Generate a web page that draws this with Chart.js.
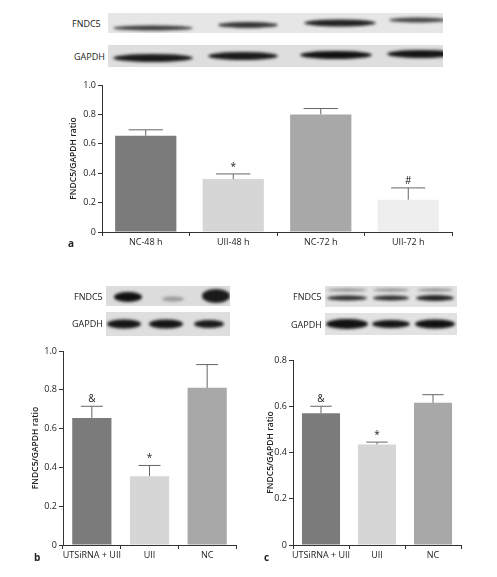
<!DOCTYPE html>
<html lang="en">
<head>
<meta charset="UTF-8">
<title>FNDC5/GAPDH ratio</title>
<script src="https://cdn.jsdelivr.net/npm/chart.js"></script>
<style>
  body { margin: 0; background: #fff; font-family: 'Open Sans', sans-serif; }
  .wrap { position: relative; width: 497px; height: 577px; }
  .abs { position: absolute; }
  .lbl { position: absolute; font-size: 9px; color: #222; }
  .letter { position: absolute; font-size: 10px; font-weight: bold; color: #222; }
</style>
</head>
<body>
<div class="wrap">
  <canvas id="blotA" class="abs" style="left:108px;top:13px" width="335" height="54"></canvas>
  <div class="lbl" style="left:72px;top:17px">FNDC5</div>
  <div class="lbl" style="left:74px;top:50px">GAPDH</div>
  <canvas id="chartA" class="abs" style="left:40px;top:75px"></canvas>
  <div class="letter" style="left:68px;top:236px">a</div>

  <canvas id="blotB" class="abs" style="left:106px;top:286px" width="124" height="50"></canvas>
  <div class="lbl" style="left:74px;top:290px">FNDC5</div>
  <div class="lbl" style="left:72px;top:317px">GAPDH</div>
  <canvas id="chartB" class="abs" style="left:0px;top:340px"></canvas>
  <div class="letter" style="left:34px;top:550px">b</div>

  <canvas id="blotC" class="abs" style="left:325px;top:286px" width="132" height="49"></canvas>
  <div class="lbl" style="left:293px;top:290px">FNDC5</div>
  <div class="lbl" style="left:291px;top:318px">GAPDH</div>
  <canvas id="chartC" class="abs" style="left:240px;top:345px"></canvas>
  <div class="letter" style="left:264px;top:550px">c</div>
</div>
<script>
// Data
const catsA = ['NC-48 h', 'UII-48 h', 'NC-72 h', 'UII-72 h'];
const valsA = [0.655, 0.36, 0.80, 0.22];
const errA = [0.04, 0.035, 0.04, 0.08];
const marksA = ['', '*', '', '#'];
const colorsA = ['#7b7b7b', '#d6d6d6', '#a8a8a8', '#eeeeee'];

const catsBC = ['UTSiRNA + UII', 'UII', 'NC'];
const valsB = [0.655, 0.355, 0.81];
const errB = [0.06, 0.055, 0.12];
const valsC = [0.57, 0.435, 0.615];
const errC = [0.03, 0.01, 0.035];
const marksBC = ['&', '*', ''];
const colorsBC = ['#7b7b7b', '#d6d6d6', '#a8a8a8'];

const ticksA = [0, 0.2, 0.4, 0.6, 0.8, 1.0];
const ticksC = [0, 0.2, 0.4, 0.6, 0.8];

const errorBars = {
  id: 'errorBars',
  afterDatasetsDraw(chart, args, opts) {
    const { ctx } = chart;
    const meta = chart.getDatasetMeta(0);
    const ys = chart.scales.y;
    meta.data.forEach((bar, i) => {
      const v = opts.values[i], e = opts.errors[i];
      const yTop = ys.getPixelForValue(v + e);
      const half = bar.width * 0.28;
      ctx.save();
      ctx.strokeStyle = '#666';
      ctx.lineWidth = 1;
      ctx.beginPath();
      ctx.moveTo(bar.x, bar.y);
      ctx.lineTo(bar.x, yTop);
      ctx.moveTo(bar.x - half, yTop);
      ctx.lineTo(bar.x + half, yTop);
      ctx.stroke();
      if (opts.marks[i]) {
        ctx.fillStyle = '#222';
        ctx.font = '10px "Open Sans"';
        ctx.textAlign = 'center';
        ctx.textBaseline = 'bottom';
        ctx.fillText(opts.marks[i], bar.x, yTop - 2);
      }
      ctx.restore();
    });
  }
};

function makeChart(id, w, h, cats, vals, errs, marks, colors, ticks, yMax, yWidth, pad, xH, barPct) {
  const c = document.getElementById(id);
  c.width = w; c.height = h;
  c.style.width = w + 'px'; c.style.height = h + 'px';
  return new Chart(c, {
    type: 'bar',
    data: { labels: cats, datasets: [{ data: vals, backgroundColor: colors, barPercentage: barPct, categoryPercentage: 1 }] },
    options: {
      responsive: false, animation: false, devicePixelRatio: 1,
      layout: { padding: pad },
      plugins: { legend: { display: false }, tooltip: { enabled: false },
        errorBars: { values: vals, errors: errs, marks: marks } },
      scales: {
        x: {
          grid: { display: true, drawOnChartArea: false, tickLength: 4, color: '#333' },
          border: { color: '#333' },
          ticks: { color: '#222', font: { size: 9, family: 'Open Sans' }, padding: 1, maxRotation: 0, autoSkip: false },
          afterFit(s) { s.height = xH; }
        },
        y: {
          min: 0, max: yMax,
          afterBuildTicks(s) { s.ticks = ticks.map(v => ({ value: v })); },
          grid: { display: true, drawOnChartArea: false, tickLength: 4, color: '#333' },
          border: { color: '#333' },
          ticks: { color: '#222', font: { size: 9, family: 'Open Sans' }, padding: 2,
            callback: v => v === 0 ? '0' : v.toFixed(1) },
          title: { display: true, text: 'FNDC5/GAPDH ratio', color: '#222', padding: 0,
            font: { size: 8.5, family: 'Open Sans', weight: '600' } },
          afterFit(s) { s.width = yWidth; }
        }
      }
    },
    plugins: [errorBars]
  });
}

makeChart('chartA', 420, 175, catsA, valsA, errA, marksA, colorsA, ticksA, 1.0, 34,
  { top: 10, right: 8, left: 28, bottom: 0 }, 18, 0.7);
makeChart('chartB', 240, 230, catsBC, valsB, errB, marksBC, colorsBC, ticksA, 1.0, 33,
  { top: 11, right: 4, left: 30, bottom: 0 }, 25, 0.68);
makeChart('chartC', 257, 225, catsBC, valsC, errC, marksBC, colorsBC, ticksC, 0.8, 28,
  { top: 15, right: 36, left: 25, bottom: 0 }, 25, 0.68);

// Western blot strips (decorative images)
function blot(id, rows) {
  const c = document.getElementById(id), ctx = c.getContext('2d');
  rows.forEach(r => {
    ctx.fillStyle = r.bg;
    ctx.fillRect(0, r.y, c.width, r.h);
    ctx.save();
    ctx.filter = 'blur(1.5px)';
    r.bands.forEach(b => {
      ctx.fillStyle = b.c;
      ctx.beginPath();
      ctx.ellipse(b.x, r.y + b.dy, b.w / 2, b.t / 2, 0, 0, Math.PI * 2);
      ctx.fill();
    });
    ctx.restore();
  });
}
blot('blotA', [
  { y: 0, h: 20, bg: '#e6e6e6', bands: [
    { x: 45, dy: 15, w: 80, t: 5, c: '#3a3a3a' }, { x: 140, dy: 12, w: 60, t: 6, c: '#333' },
    { x: 232, dy: 10, w: 72, t: 7, c: '#222' }, { x: 310, dy: 7, w: 58, t: 5, c: '#444' }] },
  { y: 32, h: 22, bg: '#dedede', bands: [
    { x: 45, dy: 13, w: 80, t: 8, c: '#1a1a1a' }, { x: 135, dy: 11, w: 70, t: 8, c: '#1a1a1a' },
    { x: 228, dy: 10, w: 72, t: 8, c: '#111' }, { x: 313, dy: 9, w: 68, t: 8, c: '#151515' }] }
]);
blot('blotB', [
  { y: 0, h: 20, bg: '#dcdcdc', bands: [
    { x: 22, dy: 11, w: 28, t: 10, c: '#111' }, { x: 67, dy: 13, w: 22, t: 5, c: '#999' },
    { x: 110, dy: 10, w: 28, t: 14, c: '#1a1a1a' }] },
  { y: 26, h: 24, bg: '#dedede', bands: [
    { x: 18, dy: 12, w: 34, t: 9, c: '#151515' }, { x: 60, dy: 12, w: 34, t: 9, c: '#151515' },
    { x: 103, dy: 12, w: 30, t: 8, c: '#1a1a1a' }] }
]);
blot('blotC', [
  { y: 0, h: 21, bg: '#e2e2e2', bands: [
    { x: 22, dy: 4, w: 40, t: 3, c: '#888' }, { x: 66, dy: 4, w: 36, t: 3, c: '#888' },
    { x: 110, dy: 4, w: 36, t: 3, c: '#888' },
    { x: 22, dy: 12, w: 40, t: 5, c: '#2a2a2a' }, { x: 66, dy: 12, w: 36, t: 5, c: '#2a2a2a' },
    { x: 110, dy: 12, w: 38, t: 6, c: '#222' }] },
  { y: 27, h: 22, bg: '#e2e2e2', bands: [
    { x: 22, dy: 11, w: 42, t: 10, c: '#111' }, { x: 66, dy: 11, w: 38, t: 8, c: '#151515' },
    { x: 110, dy: 11, w: 40, t: 9, c: '#111' }] }
]);
</script>
</body>
</html>
